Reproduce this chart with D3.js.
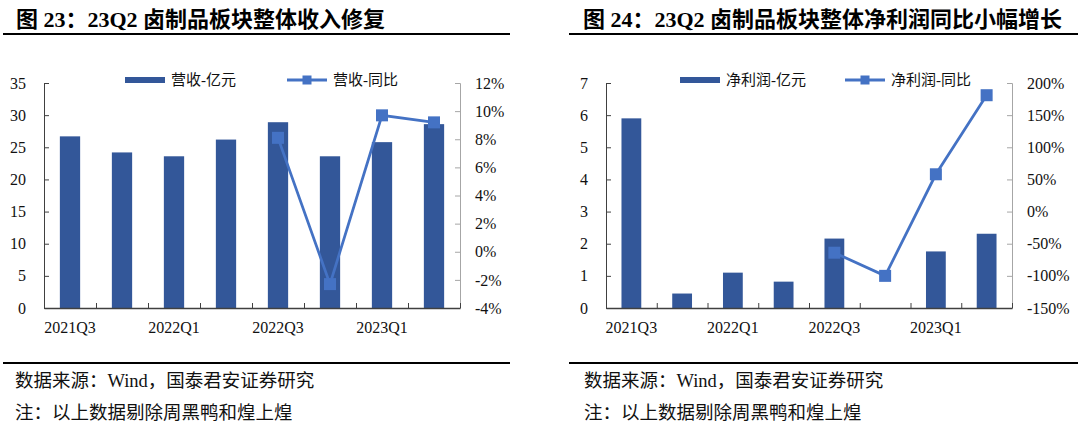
<!DOCTYPE html>
<html>
<head>
<meta charset="utf-8">
<script src="https://cdn.jsdelivr.net/npm/d3@7"></script>
<style>
    body { margin: 0; background: #fff; }
    svg { display: block; }
</style>
</head>
<body>
<div id="chart"></div>
<script>
const quarters = ['2021Q3', '2021Q4', '2022Q1', '2022Q2', '2022Q3', '2022Q4', '2023Q1', '2023Q2'];
const quarterLabels = ['2021Q3', '2022Q1', '2022Q3', '2023Q1'];

// 营收 (亿元) and 同比 (%)
const revenue = [26.7, 24.2, 23.6, 26.2, 28.9, 23.6, 25.8, 28.6];
const revenueYoy = [null, null, null, null, 8.1, -2.3, 9.7, 9.2];
const revenueTicks = [0, 5, 10, 15, 20, 25, 30, 35];
const revenueYoyTicks = [-4, -2, 0, 2, 4, 6, 8, 10, 12];

// 净利润 (亿元) and 同比 (%)
const profit = [5.9, 0.45, 1.1, 0.82, 2.16, 0, 1.76, 2.31];
const profitYoy = [null, null, null, null, -64, -100, 58, 181];
const profitTicks = [0, 1, 2, 3, 4, 5, 6, 7];
const profitYoyTicks = [-150, -100, -50, 0, 50, 100, 150, 200];

const SERIF = '"Liberation Serif", "Times New Roman", "Noto Sans CJK SC", serif';
const BAR = '#335799';
const LINE = '#4472c4';
const TOP = 83, BASE = 308;

const svg = d3.select('#chart').append('svg')
    .attr('width', 1080)
    .attr('height', 429);

function styleText(sel) {
    sel.selectAll('text')
        .attr('font-family', SERIF)
        .attr('font-size', 16)
        .attr('fill', '#111');
}

function drawPanel(cfg) {
    const g = svg.append('g');

    // heading + rules
    g.append('text')
        .attr('x', cfg.titleX).attr('y', 27)
        .attr('font-family', SERIF).attr('font-size', 22).attr('font-weight', 'bold')
        .attr('fill', '#000')
        .text(cfg.title);
    [34, 363].forEach(yy => g.append('line')
        .attr('x1', cfg.ruleX[0]).attr('x2', cfg.ruleX[1])
        .attr('y1', yy).attr('y2', yy)
        .attr('stroke', '#000').attr('stroke-width', 2));
    cfg.notes.forEach((t, i) => g.append('text')
        .attr('x', cfg.noteX).attr('y', 381 + i * 32)
        .attr('dy', '0.35em')
        .attr('font-family', SERIF).attr('font-size', 18.5)
        .attr('fill', '#111')
        .text(t));

    const x = d3.scaleBand().domain(quarters).range([cfg.left, cfg.right]);
    const bw = x.bandwidth();
    const xEdge = d3.scaleLinear().domain([0, quarters.length]).range([cfg.left, cfg.right]);
    const y = d3.scaleLinear()
        .domain(d3.extent(cfg.ticks)).range([BASE, TOP]);
    const y2 = d3.scaleLinear()
        .domain(d3.extent(cfg.ticks2)).range([BASE, TOP]);

    // bars
    g.append('g').selectAll('rect')
        .data(cfg.bars)
        .join('rect')
        .attr('x', (d, i) => x(quarters[i]) + bw * 0.305)
        .attr('width', bw * 0.39)
        .attr('y', d => y(d))
        .attr('height', d => BASE - y(d))
        .attr('fill', BAR);

    // left axis
    const ax = g.append('g')
        .attr('transform', `translate(${cfg.left},0)`)
        .call(d3.axisLeft(y).tickValues(cfg.ticks).tickSize(-5).tickPadding(18)
            .tickFormat(d => String(d)));
    ax.selectAll('path,line').attr('stroke', '#404040');
    styleText(ax);

    // right axis
    const ax2 = g.append('g')
        .attr('transform', `translate(${cfg.right},0)`)
        .call(d3.axisRight(y2).tickValues(cfg.ticks2).tickSize(-5).tickPadding(15)
            .tickFormat(d => d + '%'));
    ax2.selectAll('path,line').attr('stroke', '#a6a6a6');
    styleText(ax2);

    // category axis: ticks on band edges, labels on every other quarter
    const axE = g.append('g')
        .attr('transform', `translate(0,${BASE})`)
        .call(d3.axisBottom(xEdge).tickValues(d3.range(quarters.length + 1))
            .tickSize(-5).tickSizeOuter(0).tickFormat(''));
    axE.selectAll('path,line').attr('stroke', '#404040');
    axE.select('path').attr('stroke-width', 1.3);

    const axL = g.append('g')
        .attr('transform', `translate(0,${BASE})`)
        .call(d3.axisBottom(x).tickValues(quarterLabels).tickSize(0).tickPadding(14));
    axL.select('.domain').remove();
    styleText(axL);

    // yoy line
    const line = d3.line()
        .defined(d => d != null)
        .x((d, i) => x(quarters[i]) + bw / 2)
        .y(d => y2(d));
    g.append('path')
        .datum(cfg.line)
        .attr('d', line)
        .attr('fill', 'none')
        .attr('stroke', LINE)
        .attr('stroke-width', 2.75);
    const M = 12;
    g.append('g').selectAll('rect')
        .data(cfg.line.map((v, i) => ({ v, q: quarters[i] })).filter(d => d.v != null))
        .join('rect')
        .attr('x', d => x(d.q) + bw / 2 - M / 2)
        .attr('y', d => y2(d.v) - M / 2)
        .attr('width', M).attr('height', M)
        .attr('fill', LINE);

    // legend
    const lg = cfg.legend;
    const LY = 80;
    g.append('rect')
        .attr('x', lg.barX).attr('y', LY - 3)
        .attr('width', 40).attr('height', 6)
        .attr('fill', BAR);
    g.append('text')
        .attr('x', lg.barX + 46).attr('y', LY).attr('dy', '0.35em')
        .attr('font-family', SERIF).attr('font-size', 15).attr('fill', '#111')
        .text(lg.barName);
    g.append('line')
        .attr('x1', lg.lineX).attr('x2', lg.lineX + 40)
        .attr('y1', LY).attr('y2', LY)
        .attr('stroke', LINE).attr('stroke-width', 3);
    g.append('rect')
        .attr('x', lg.lineX + 20 - 4.5).attr('y', LY - 4.5)
        .attr('width', 9).attr('height', 9)
        .attr('fill', LINE);
    g.append('text')
        .attr('x', lg.lineX + 46).attr('y', LY).attr('dy', '0.35em')
        .attr('font-family', SERIF).attr('font-size', 15).attr('fill', '#111')
        .text(lg.lineName);
}

const notes = ['数据来源：Wind，国泰君安证券研究', '注：以上数据剔除周黑鸭和煌上煌'];

drawPanel({
    title: '图 23：23Q2 卤制品板块整体收入修复',
    titleX: 16, ruleX: [3, 510], noteX: 15, notes,
    left: 44, right: 460,
    bars: revenue, line: revenueYoy,
    ticks: revenueTicks, ticks2: revenueYoyTicks,
    legend: { barX: 125, barName: '营收-亿元', lineX: 287, lineName: '营收-同比' }
});

drawPanel({
    title: '图 24：23Q2 卤制品板块整体净利润同比小幅增长',
    titleX: 583, ruleX: [569, 1078], noteX: 584, notes,
    left: 606, right: 1012,
    bars: profit, line: profitYoy,
    ticks: profitTicks, ticks2: profitYoyTicks,
    legend: { barX: 680, barName: '净利润-亿元', lineX: 845, lineName: '净利润-同比' }
});
</script>
</body>
</html>
